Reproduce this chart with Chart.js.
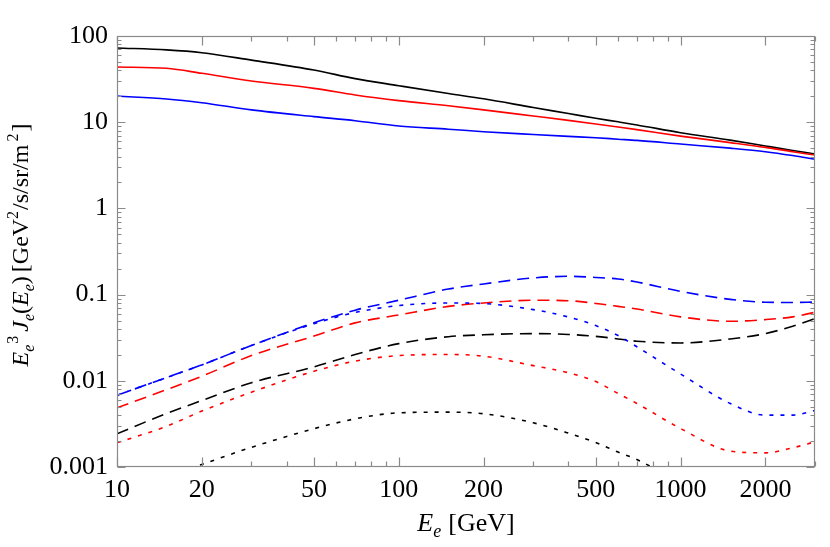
<!DOCTYPE html>
<html><head><meta charset="utf-8">
<script src="https://cdn.jsdelivr.net/npm/chart.js@4/dist/chart.umd.min.js"></script>
<style>html,body{margin:0;padding:0;background:#fff}#wrap{width:830px;height:547px;position:relative}</style>
</head><body><div id="wrap"><canvas id="c" width="830" height="547"></canvas></div>
<script>
// ---- data ----
const energies      = [10, 15, 20, 30, 50, 70, 100, 150, 200, 300, 400, 500, 600, 700, 1000, 1500, 2000, 2500, 3000];
const solidBlack    = [72.6, 69, 64, 52.5, 40.3, 32, 26.5, 21.5, 18.7, 14.8, 12.6, 11.1, 10.1, 9.3, 7.56, 6.2, 5.3, 4.7, 4.28];
const solidRed      = [43.7, 42.2, 36.9, 30.1, 24.7, 20.7, 17.8, 15.5, 13.9, 11.8, 10.5, 9.54, 8.8, 8.2, 6.9, 5.8, 5.1, 4.55, 4.16];
const solidBlue     = [20.1, 18.6, 16.8, 13.9, 11.6, 10.4, 9.04, 8.3, 7.76, 7.2, 6.85, 6.6, 6.35, 6.15, 5.58, 5.0, 4.55, 4.1, 3.71];
const dashedBlue    = [0.0068, 0.0109, 0.0153, 0.0257, 0.047, 0.066, 0.086, 0.116, 0.133, 0.156, 0.163, 0.158, 0.152, 0.140, 0.109, 0.088, 0.0815, 0.081, 0.082];
const dottedBlue    = [0.0068, 0.0109, 0.0153, 0.0257, 0.046, 0.062, 0.0746, 0.080, 0.0787, 0.067, 0.055, 0.0437, 0.0335, 0.0248, 0.012, 0.00546, 0.0040, 0.0040, 0.00453];
const dashedRed     = [0.00486, 0.0079, 0.0113, 0.0196, 0.033, 0.047, 0.058, 0.073, 0.080, 0.086, 0.085, 0.079, 0.073, 0.068, 0.0552, 0.049, 0.0513, 0.0552, 0.0624];
const dottedRed     = [0.00191, 0.00297, 0.00445, 0.00738, 0.0129, 0.0169, 0.0196, 0.0202, 0.0193, 0.015, 0.0124, 0.0098, 0.00713, 0.00546, 0.0028, 0.00153, 0.00146, 0.00167, 0.00196];
const dashedBlack   = [0.00243, 0.00418, 0.0059, 0.0095, 0.0145, 0.0202, 0.027, 0.0325, 0.0342, 0.0353, 0.0345, 0.0328, 0.0306, 0.0288, 0.0275, 0.0306, 0.0353, 0.043, 0.0527];
const dottedBlack   = [0.00048, 0.00077, 0.00107, 0.00169, 0.00278, 0.00362, 0.00425, 0.00433, 0.00415, 0.00326, 0.00247, 0.00192, 0.00149, 0.00122, 0.00065, null, null, null, null];

const xTickValues = [10, 20, 50, 100, 200, 500, 1000, 2000];
const xTickLabels = ['10', '20', '50', '100', '200', '500', '1000', '2000'];
const xMinorTicks = [30, 40, 60, 70, 80, 90, 300, 400, 600, 700, 800, 900, 3000];
const yTickValues = [0.001, 0.01, 0.1, 1, 10, 100];
const yTickLabels = ['0.001', '0.01', '0.1', '1', '10', '100'];
const yMinorMultipliers = [2, 3, 4, 5, 6, 7, 8, 9];

const FONT = "'Liberation Serif','Times New Roman',serif";
const BLACK = '#000000', RED = '#ff0000', BLUE = '#0000ff';
const DASH = [12, 7], DOT = [4, 7];

function series(label, values, color, dash) {
  return {
    label, data: values.map((v, i) => ({ x: energies[i], y: v })),
    borderColor: color, borderWidth: 1.6, borderDash: dash || [],
    pointRadius: 0, fill: false, cubicInterpolationMode: 'monotone', spanGaps: false
  };
}

const datasets = [
  series('dotted black', dottedBlack, BLACK, DOT),
  series('dotted red', dottedRed, RED, DOT),
  series('dotted blue', dottedBlue, BLUE, DOT),
  series('dashed black', dashedBlack, BLACK, DASH),
  series('dashed red', dashedRed, RED, DASH),
  series('dashed blue', dashedBlue, BLUE, DASH),
  series('solid blue', solidBlue, BLUE),
  series('solid red', solidRed, RED),
  series('solid black', solidBlack, BLACK)
];

function drawRich(ctx, parts, baseSize) {
  let total = 0;
  const widths = parts.map(p => {
    ctx.font = (p[1] ? 'italic ' : '') + Math.round(baseSize * p[2]) + 'px ' + FONT;
    const w = ctx.measureText(p[0]).width + (p[4] || 0); total += w; return w;
  });
  let x = -total / 2;
  parts.forEach((p, i) => {
    ctx.font = (p[1] ? 'italic ' : '') + Math.round(baseSize * p[2]) + 'px ' + FONT;
    ctx.fillText(p[0], x, p[3]);
    x += widths[i];
  });
}

// [text, italic, size factor, baseline shift, extra gap after]
const yTitle = [
  ['E', true, 1, 0], ['e', true, 0.68, 6, 1], ['3', false, 0.68, -10, 4],
  ['J', true, 1, 0], ['e', true, 0.68, 6], ['(', false, 1, 0], ['E', true, 1, 0], ['e', true, 0.68, 6], [')', false, 1, 0, 4],
  ['[GeV', false, 1, 0], ['2', false, 0.68, -10, 1], ['/s/sr/m', false, 1, 0, 3], ['2', false, 0.68, -10, 2], [']', false, 1, 0]
];
const xTitle = [['E', true, 1, 0], ['e', true, 0.68, 6, 7], ['[GeV]', false, 1, 0]];

const decor = {
  id: 'decor',
  afterDatasetsDraw(chart) {
    const { ctx, chartArea: a, scales: { x, y } } = chart;
    ctx.save();
    ctx.strokeStyle = '#8a8a8a';
    ctx.lineWidth = 1.2;
    const L = Math.round(a.left) + 0.5, R = Math.round(a.right) - 0.5, T = Math.round(a.top) + 0.5, B = Math.round(a.bottom) - 0.5;
    ctx.strokeRect(L, T, R - L, B - T);
    ctx.beginPath();
    const xt = (v, len) => { const px = Math.round(x.getPixelForValue(v)) + 0.5; ctx.moveTo(px, B); ctx.lineTo(px, B - len); ctx.moveTo(px, T); ctx.lineTo(px, T + len); };
    const yt = (v, len) => { const py = Math.round(y.getPixelForValue(v)) + 0.5; ctx.moveTo(L, py); ctx.lineTo(L + len, py); ctx.moveTo(R, py); ctx.lineTo(R - len, py); };
    xTickValues.forEach(v => xt(v, 9));
    xMinorTicks.forEach(v => xt(v, 5));
    yTickValues.forEach(v => yt(v, 8));
    yTickValues.slice(0, -1).forEach(d => yMinorMultipliers.forEach(m => yt(d * m, 4)));
    ctx.stroke();
    ctx.restore();

    ctx.save();
    ctx.fillStyle = '#000';
    ctx.textBaseline = 'alphabetic';
    ctx.translate((a.left + a.right) / 2, 531);
    drawRich(ctx, xTitle, 26);
    ctx.restore();

    ctx.save();
    ctx.fillStyle = '#000';
    ctx.textBaseline = 'alphabetic';
    ctx.translate(28, 245);
    ctx.rotate(-Math.PI / 2);
    drawRich(ctx, yTitle, 24);
    ctx.restore();
  }
};

new Chart(document.getElementById('c'), {
  type: 'line',
  data: { datasets },
  plugins: [decor],
  options: {
    responsive: false, animation: false, devicePixelRatio: 1,
    layout: { padding: { left: 0, right: 15, top: 36, bottom: 0 } },
    plugins: { legend: { display: false }, tooltip: { enabled: false } },
    scales: {
      x: {
        type: 'logarithmic', min: 10, max: 3000,
        afterBuildTicks: s => { s.ticks = xTickValues.map(v => ({ value: v })); },
        afterFit: s => { s.height = 80; },
        grid: { display: false, drawTicks: false }, border: { display: false },
        ticks: { autoSkip: false, maxRotation: 0, padding: 8, color: '#000',
          font: { family: FONT, size: 26 }, callback: (v, i) => xTickLabels[i] }
      },
      y: {
        type: 'logarithmic', min: 0.001, max: 100,
        afterBuildTicks: s => { s.ticks = yTickValues.map(v => ({ value: v })); },
        afterFit: s => { s.width = 117; },
        grid: { display: false, drawTicks: false }, border: { display: false },
        ticks: { autoSkip: false, padding: 9, color: '#000',
          font: { family: FONT, size: 26 }, callback: (v, i) => yTickLabels[i] }
      }
    }
  }
});
</script></body></html>
